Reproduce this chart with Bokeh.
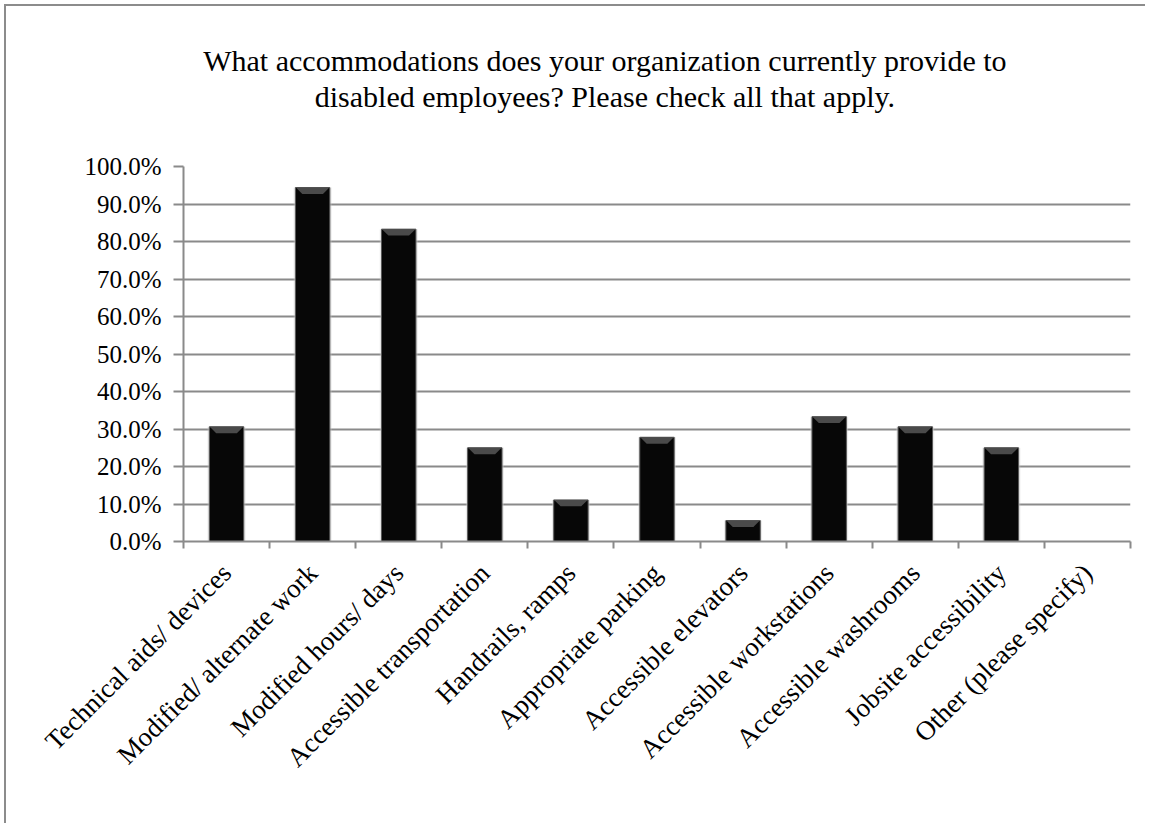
import math
from bokeh.plotting import figure
from bokeh.models import (Range1d, FixedTicker, NumeralTickFormatter, LinearAxis,
                          ColumnDataSource)
from bokeh.embed import file_html
from bokeh.resources import INLINE

title_lines = ["What accommodations does your organization currently provide to",
               "disabled employees? Please check all that apply."]
categories = ["Technical aids/ devices", "Modified/ alternate work", "Modified hours/ days",
              "Accessible transportation", "Handrails, ramps", "Appropriate parking",
              "Accessible elevators", "Accessible workstations", "Accessible washrooms",
              "Jobsite accessibility", "Other (please specify)"]
values = [0.306, 0.944, 0.833, 0.250, 0.111, 0.278, 0.056, 0.333, 0.306, 0.250, 0.0]
y_ticks = [i / 10 for i in range(11)]

FONT = "Liberation Serif"
GRAY = "#8a8a8a"

n = len(categories)
xc = [i + 0.5 for i in range(n)]

FW, FH = 947, 375
ML, MT = 177, 160
p = figure(x_range=Range1d(0, n), y_range=Range1d(0, 1.0),
           frame_width=FW, frame_height=FH,
           min_border_left=ML, min_border_top=MT, min_border_right=15, min_border_bottom=282,
           output_backend="svg", toolbar_location=None, tools="",
           background_fill_color="white", border_fill_color="white",
           styles={"border-top": "2px solid #8c8c8c", "border-left": "2px solid #8c8c8c",
                   "margin-top": "4px", "margin-left": "4px"})
p.outline_line_color = None

xa = p.below[0]
ya = p.left[0]

# Two-line title drawn as label-only axes above the frame (line 2 nearest the frame)
title_center = n * 0.445
for line, standoff in [(title_lines[1], 54), (title_lines[0], 0)]:
    ax = LinearAxis(ticker=FixedTicker(ticks=[title_center], minor_ticks=[]),
                    major_label_overrides={title_center: line})
    ax.axis_line_color = None
    ax.major_tick_line_color = None
    ax.minor_tick_line_color = None
    ax.major_tick_out = 0
    ax.major_tick_in = 0
    ax.minor_tick_out = 0
    ax.minor_tick_in = 0
    ax.major_label_standoff = standoff
    ax.major_label_text_font = FONT
    ax.major_label_text_font_size = "30px"
    ax.major_label_text_color = "black"
    p.add_layout(ax, "above")

# bars: soft shadow, body, bevel
src = ColumnDataSource(dict(x=xc, top=values))
p.vbar(x="x", top="top", bottom=0, width=0.44, source=src,
       fill_color="#cfcfcf", fill_alpha=0.45, line_color=None)
p.vbar(x="x", top="top", bottom=0, width=0.40, source=src,
       fill_color="#070707", line_color="#5a5a5a", line_width=1)

bx, by = [], []
for x, v in zip(xc, values):
    if v > 0:
        bx.append([x - 0.195, x + 0.195, x + 0.12, x - 0.12])
        by.append([v, v, v - 0.017, v - 0.017])
p.patches(bx, by, fill_color="#4a4a4a", line_color=None)

# grid
p.xgrid.grid_line_color = None
p.ygrid.ticker = FixedTicker(ticks=y_ticks)
p.ygrid.grid_line_color = GRAY
p.ygrid.grid_line_width = 2

# y axis
ya.ticker = FixedTicker(ticks=y_ticks)
ya.formatter = NumeralTickFormatter(format="0.0%")
ya.axis_line_color = GRAY
ya.axis_line_width = 2
ya.major_tick_line_color = GRAY
ya.major_tick_line_width = 2
ya.major_tick_out = 10
ya.major_tick_in = 0
ya.minor_tick_line_color = None
ya.major_label_text_font = FONT
ya.major_label_text_font_size = "25px"
ya.major_label_text_color = "black"
ya.major_label_standoff = 12

# x axis
xa.ticker = FixedTicker(ticks=xc, minor_ticks=list(range(n + 1)))
xa.major_label_overrides = {x: c for x, c in zip(xc, categories)}
xa.axis_line_color = GRAY
xa.axis_line_width = 2
xa.major_tick_line_color = None
xa.major_tick_out = 0
xa.major_tick_in = 0
xa.minor_tick_line_color = GRAY
xa.minor_tick_line_width = 2
xa.minor_tick_out = 7
xa.minor_tick_in = 0
xa.major_label_orientation = math.pi / 4
xa.major_label_text_font = FONT
xa.major_label_text_font_size = "27px"
xa.major_label_text_color = "black"
xa.major_label_standoff = 20

open("out.html", "w").write(file_html(p, INLINE))
